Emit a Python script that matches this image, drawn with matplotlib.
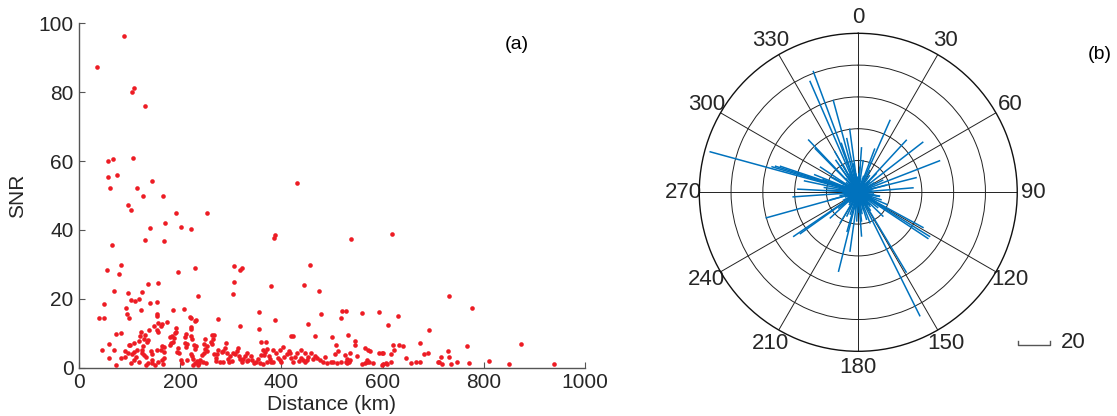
import numpy as np
import matplotlib
matplotlib.use("Agg")
from matplotlib import pyplot as plt
from matplotlib.lines import Line2D

plt.rcParams['font.family'] = ['Liberation Sans', 'DejaVu Sans']

# (a) SNR vs distance
distance = [
    35, 88.3, 108.7, 104.7, 131, 56.7, 66.6, 106.7, 56.7, 74.5, 61.3, 114.6, 144.9, 125.9, 166.6, 431.4,
    96.8, 102.1, 191, 253, 141, 169.3, 200.9, 222, 130.4, 168, 65.2, 83, 79, 56, 68.5, 49.4, 38.9, 49.4,
    195, 228.6, 235.9, 136.4, 156.1, 124.5, 96.2, 118.6, 103.4, 111.3, 154.8, 141, 92.2, 95.5, 98.2,
    121.9, 154.2, 154.2, 186.4, 206.9, 231.2, 219.4, 274.7, 305, 305.7, 318.2, 322.2, 318.9, 306.3,
    355.1, 355.8, 359.7, 380.1, 387.4, 386, 388, 445.3, 456.6, 451.9, 467.1, 474.4, 479, 500.7, 507.3,
    517.2, 527, 519.1, 537, 531, 544.8, 545.5, 549.4, 506.6, 512.5,
    618.6, 731.9, 777.3, 560, 592.9, 631.1, 611.3, 691, 673.3, 872.9, 766.8, 619.9, 632.4, 641, 622.5,
    565.9, 571.1, 575.1, 536.2, 525.7, 593.5, 598.1, 601.4, 616, 645.6, 681.8, 689.1, 729.3, 730.6,
    715.4, 747.7, 771.4, 811, 849.2, 938.8, 708.8, 710.8, 718, 735.2, 665.3, 673.9, 655.5, 559.3,
    564.5, 568.5, 569.8, 573.8, 581.7, 598.1, 601.4, 608, 616, 606, 535.6, 530.3, 530.3, 527.7, 534.2,
    517.8,
    46.1, 59.3, 58.6, 73.1, 73.1, 83, 83, 99.5, 100.8, 102.8, 104.1, 108.7, 115.3, 118.6, 121.9, 126.5,
    130.4, 128.5, 132.4, 128.5, 123.9, 125.2, 132.4, 136.4, 137.7, 137.1, 135, 141.6, 144.9, 147.6,
    153.5, 155.5, 154.8, 156.1, 155.5, 162.1, 164.7, 173.3, 164, 167.3, 162.1, 168.7, 168, 163.4, 166.7,
    179.9, 184.5, 189.7, 191.7, 191, 179.9, 181.8, 185.8, 188.4, 194.3, 196.3, 198.3, 200.9, 203, 214.1,
    211.5, 210.2, 214.1, 211.5, 209.5, 220.7, 222, 220.7, 229.3, 222, 224, 227.3, 231.2, 228.6, 224,
    220.7, 224.7, 229.9, 233.2, 237.8, 235.2, 239.8, 226, 242.4, 246.4, 249, 244.4, 251, 247.7, 249,
    252.3, 260.2, 262.2, 264.2, 266.2, 262.2, 253, 266.8, 272.1, 275.4, 270.1, 271.4, 278.7, 285.3,
    282, 285.3, 288.6, 291.2, 293.2, 293.8, 297.1, 303.1, 298.4, 305, 308.3, 311.6, 313.6, 315.6,
    318.2, 321.5, 324.8, 328.1, 331.4, 332, 334.7, 339.3, 342.6, 345.9, 349.8, 353.8, 357.7, 359,
    365.6, 368.3, 372.2, 374.9, 377.5, 379.5, 384.1, 389.4, 394, 397.3, 399.3, 369.6, 363, 405.2,
    410.5, 414.4, 417, 419.7, 423.6, 426.2, 430.2, 434.1, 438.1, 442, 446.7, 450, 453.3, 457.9, 461.8,
    466.4, 469.7, 476.3, 482.9, 422.3, 419.7, 486.2, 489.5, 497.4, 502.7, 510.6, 384.1, 372.2, 364.3,
    397.3, 403.9, 438.1, 446.7, 68.5, 91.6, 97.5, 91.6, 112.7, 108.7, 118.6, 143.6, 150.2, 144.9,
    120.6, 108.7,
]
snr = [
    87.2, 96.4, 81.1, 80, 75.9, 60.1, 60.6, 60.8, 55.5, 56, 52.3, 52.2, 54.1, 49.8, 49.9, 53.5,
    47.3, 45.9, 44.8, 44.9, 40.7, 41.9, 40.9, 40.4, 37, 36.8, 35.5, 29.8, 27.3, 28.5, 22.4, 14.3, 14.3, 18.6,
    27.7, 28.9, 20.8, 24.3, 24.6, 22, 21.7, 20, 19.8, 19.3, 19.2, 18.8, 17.3, 15.7, 14.4,
    16.7, 15.7, 14.9, 16.7, 17, 13.9, 14.8, 14.2, 21.3, 29.4, 28.4, 29, 12.2, 24.8,
    16.1, 11.3, 7.5, 23.7, 13.8, 37.6, 38.6, 24.1, 29.7, 12.6, 9.2, 22.4, 15.6, 8.8, 6.7,
    14.3, 16.5, 16.6, 37.3, 9.5, 7.8, 6.6, 3.5, 3.9, 4.85,
    38.7, 20.9, 17.2, 15.8, 16.2, 14.9, 12.3, 10.9, 7.1, 7, 6.4, 6.7, 6.6, 6.4, 5.1,
    5.6, 5.1, 4.9, 4.2, 3.8, 4.2, 4.4, 4.4, 4, 2.9, 3.9, 4.4, 4.9, 3,
    3.2, 1.56, 1.27, 1.85, 1.17, 1.07, 1.65, 1.65, 1.07, 1.17, 1.75, 1.75, 1.27, 1,
    1.5, 2.2, 1.65, 1.75, 1.27, 0.8, 1.2, 1.07, 1.56, 1.5, 2.1, 2.5, 1.27, 1.75, 1.75,
    1.75,
    5.1, 6.9, 2.9, 0.8, 9.8, 10.2, 2.7, 6.7, 6.7, 1.4, 4, 4.6, 5.1, 7.7, 10.5, 6.4,
    9.4, 8.4, 3.1, 3.7, 5.1, 4.2, 0.7, 1.5, 10.9, 8, 7.4, 4.8, 4, 12.2,
    5.1, 1.75, 10.9, 10.4, 13.1, 12.2, 12.8, 13.4, 6.4, 6.1, 5.1, 4.5, 2.8, 2.2, 1.1,
    9, 9.1, 10.1, 11.4, 10.5, 6.5, 7.3, 7.6, 8.5, 4.6, 5.7, 4.2, 2.2, 1.5, 2.2,
    6.1, 9, 6.9, 9.7, 7.3, 9.3, 11.9, 14.5, 13.6, 11.1, 8.4, 6.7, 6.3, 5.4, 3.5,
    4.1, 2.5, 1.4, 2, 1.5, 0.8, 2.2, 0.8, 3.6, 4.2, 5.4, 1.75, 1.5, 6.9, 8.2,
    6.4, 7.6, 6.8, 8.4, 9.4, 9.4, 4.8, 3.9, 4.1, 5.1, 2.7, 1.85, 1.65, 1.75,
    4.6, 4.8, 5.6, 7.1, 4.2, 2.4, 1.55, 1.85, 3.5, 4.4, 3.9, 4.8, 5.8, 3.3,
    2.6, 1.55, 2.5, 3.3, 4.2, 1.85, 2.2, 3.4, 2.3, 1.5, 1.75, 2.4, 1.5, 3.8,
    3.8, 4.6, 5.3, 3.3, 2.4, 1.55, 5.1, 4.2, 2.8, 2.2, 1.75, 7.6, 5.1, 3.2,
    4, 4.9, 4.2, 2.7, 1.55, 3.2, 4.2, 2, 2.7, 2.1, 1.75, 2.2, 3.2, 4.2, 2.4,
    3.5, 2.7, 2.1, 1.75, 9.2, 9.2, 3.2, 1.5, 1.75, 1.55, 1.45, 1.75, 1.75, 1,
    5.1, 6.1, 5.1, 4.2, 5, 4.9, 4.2, 3.2, 3.2, 2.2, 1.75, 1.5, 0.8, 2.2,
    9.3, 7.3,
]

# (b) direction (deg, clockwise from north) and length of each stick
azimuth = [
    285.3, 339.6, 336.5, 344.8, 153.5, 149, 194, 188, 254.5, 235.7, 234.5, 123.5, 121.7, 118.5,
    68.8, 52.2, 42.7, 23.8, 75.8, 85.3, 316.5, 352.3, 266, 273, 286.5, 287.5, 288.5, 315.4, 303.7,
    20.7, 4.2, 175.7, 159, 134, 173.5, 210.6, 227.5, 8.8, 348, 341, 330, 325, 282, 292, 100, 108, 113,
    324.5, 299, 27.6, 44, 63.7, 75.5, 101, 117, 119.5, 163, 183, 205.6, 231, 255, 274, 331, 350, 3.7,
    5, 14, 22, 31, 38, 47, 55, 63, 72, 80, 88, 97, 105, 113, 126, 134, 142, 151, 160, 168, 177,
    186, 195, 203, 212, 221, 229, 238, 246, 257, 263, 271, 280, 289, 297, 305, 313, 322, 331, 340,
    349, 357,
    2, 10, 18, 26, 34, 42, 51, 59, 67, 76, 84, 93, 101, 109, 118, 130, 138, 146, 155, 164, 172,
    181, 190, 199, 208, 216, 225, 233, 242, 250, 260, 268, 276, 284, 293, 301, 309, 318, 326, 335,
    344, 353, 290, 278, 300, 196, 200, 170, 140, 128,
]
stick_len = [
    97, 81.5, 76.5, 60.3, 87.2, 59, 51.6, 37.8, 60.5, 49.6, 45.2, 53, 53.2, 46.8,
    55.3, 51.8, 45, 49.9, 38, 35, 45.8, 40.5, 41.5, 38.5, 57, 55, 52, 39, 29,
    29.5, 28.5, 28, 21, 22, 18.6, 22.7, 24.3, 20.6, 35, 33, 30, 25, 35, 30, 14, 15.5, 20,
    20, 20.4, 15.9, 16.7, 17.6, 18.5, 13.9, 10.6, 20.5, 18.2, 18.5, 17, 16.2, 18.5, 20, 19.7, 18.6, 16.2,
    8, 6, 9, 5, 7, 10, 6, 8, 5, 9, 7, 6, 8, 9, 7, 5, 10, 6, 8, 7, 9,
    6, 8, 5, 7, 9, 6, 8, 7, 5, 9, 8, 10, 6, 9, 7, 8, 6, 9, 7,
    8, 10,
    12, 9, 11, 7, 13, 10, 8, 12, 9, 11, 7, 10, 12, 9, 13, 8, 11, 14, 9, 12, 10,
    13, 11, 9, 12, 10, 8, 13, 11, 9, 12, 10, 14, 12, 11, 13, 10, 12, 11, 13,
    10, 12, 24, 22, 18, 26, 15, 14, 12, 16,
]
ring_values = [20, 40, 60, 80]
r_max = 100
scale_len = 20

fig = plt.figure(figsize=(11.17, 4.16), dpi=100)

# ---- (a)
ax = fig.add_axes([0.0707, 0.1161, 0.4530, 0.8279])
ax.scatter(distance, snr, s=11, color='#ED1C24', linewidths=0, zorder=3)
ax.set_xlim(0, 1000)
ax.set_ylim(0, 100)
ax.set_xticks(range(0, 1001, 200))
ax.set_yticks(range(0, 101, 20))
for side in ['top', 'right']:
    ax.spines[side].set_visible(False)
for side in ['left', 'bottom']:
    ax.spines[side].set_color('#555555')
    ax.spines[side].set_linewidth(1.0)
ax.tick_params(direction='in', length=4, color='#555555', labelsize=15, labelcolor='#262626', pad=4)
ax.set_xlabel('Distance (km)', fontsize=15, color='#262626', labelpad=2)
ax.set_ylabel('SNR', fontsize=15, color='#262626', labelpad=8)
ax.text(0.842, 0.937, '(a)', transform=ax.transAxes, fontsize=14, va='center')

# ---- (b)
pax = fig.add_axes([0.6260, 0.1555, 0.2847, 0.7644], projection='polar')
pax.set_theta_zero_location('N')
pax.set_theta_direction(-1)
theta = np.deg2rad(azimuth)
pax.vlines(theta, 0, stick_len, color='#0072BD', lw=1.1, zorder=3)
pax.set_ylim(0, r_max)
pax.set_rgrids(ring_values, labels=[''] * len(ring_values))
pax.set_thetagrids(range(0, 360, 30), labels=[str(a) for a in range(0, 360, 30)])
pax.grid(color='#222222', lw=0.7)
pax.spines['polar'].set_color('#111111')
pax.spines['polar'].set_linewidth(1.0)
pax.tick_params(axis='x', pad=1, labelsize=16, labelcolor='#262626')
fig.text(0.974, 0.868, '(b)', fontsize=14, ha='left', va='center')

# scale bar, same length as 20 units on the radial axis
fig.canvas.draw()
p0 = pax.transData.transform((0, 0))
p1 = pax.transData.transform((0, scale_len))
bar_px = np.hypot(*(p1 - p0))
W, H = fig.bbox.width, fig.bbox.height
x0, y0 = 1018, 416 - 345
xs = [x0 / W, x0 / W, (x0 + bar_px) / W, (x0 + bar_px) / W]
ys = [(y0 + 4) / H, y0 / H, y0 / H, (y0 + 4) / H]
fig.add_artist(Line2D(xs, ys, color='#555555', lw=1.0))
fig.text((x0 + bar_px + 11) / W, (y0 + 3) / H, str(scale_len), fontsize=16, va='center', color='#262626')

fig.savefig('out.png', dpi=100)
